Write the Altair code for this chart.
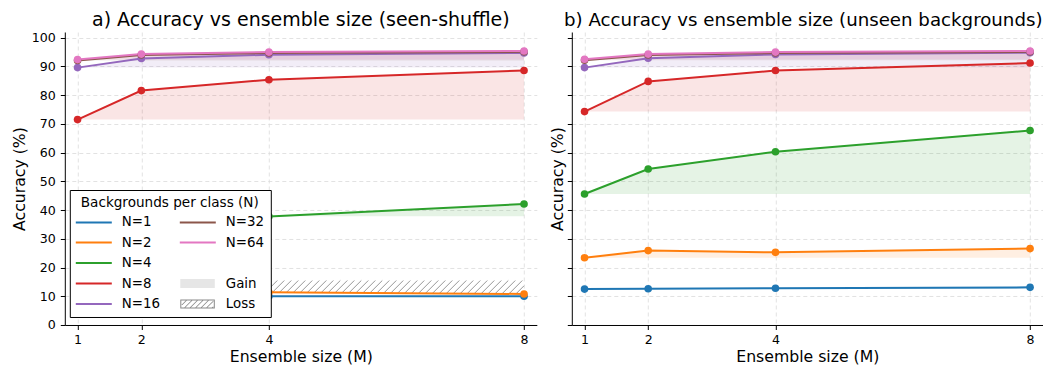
import altair as alt
import numpy as np
import pandas as pd

# ---------------- data ----------------
M_VALUES = [1, 2, 4, 8]
SERIES = ["N=1", "N=2", "N=4", "N=8", "N=16", "N=32", "N=64"]
COLORS = ["#1f77b4", "#ff7f0e", "#2ca02c", "#d62728", "#9467bd", "#8c564b", "#e377c2"]

# a) seen-shuffle
SEEN_N1 = [10.0, 10.0, 10.0, 10.0]
SEEN_N2 = [15.5, 12.6, 11.4, 10.8]
SEEN_N4 = [37.9, 37.2, 37.8, 42.1]
SEEN_N8 = [71.5, 81.6, 85.4, 88.6]
SEEN_N16 = [89.6, 92.8, 94.1, 94.7]
SEEN_N32 = [92.1, 94.0, 94.7, 95.1]
SEEN_N64 = [92.4, 94.3, 95.0, 95.4]

# b) unseen backgrounds
UNSEEN_N1 = [12.5, 12.6, 12.8, 13.1]
UNSEEN_N2 = [23.4, 25.9, 25.3, 26.6]
UNSEEN_N4 = [45.6, 54.3, 60.3, 67.7]
UNSEEN_N8 = [74.3, 84.8, 88.6, 91.2]
UNSEEN_N16 = [89.6, 92.9, 94.2, 94.8]
UNSEEN_N32 = [92.2, 94.0, 94.7, 95.1]
UNSEEN_N64 = [92.5, 94.3, 95.0, 95.4]

SEEN = [SEEN_N1, SEEN_N2, SEEN_N4, SEEN_N8, SEEN_N16, SEEN_N32, SEEN_N64]
UNSEEN = [UNSEEN_N1, UNSEEN_N2, UNSEEN_N4, UNSEEN_N8, UNSEEN_N16, UNSEEN_N32, UNSEEN_N64]

TITLES = ["a) Accuracy vs ensemble size (seen-shuffle)",
          "b) Accuracy vs ensemble size (unseen backgrounds)"]
X_TICKS = [1, 2, 4, 8]
Y_TICKS = list(range(0, 101, 10))
LEGEND_TITLE = "Backgrounds per class (N)"
EXTRA_KEYS = [" ", "Gain", "Loss"]

# ---------------- layout / style ----------------
X_DOMAIN = [0.8, 8.2]
Y_DOMAIN = [0, 102]
W_LEFT, W_RIGHT, H = 472, 471, 293
FONT = "DejaVu Sans"
HATCH_COLOR = "#8a8a8a"
GAIN_PATCH = "#e6e6e6"

SX = W_LEFT / (X_DOMAIN[1] - X_DOMAIN[0])
SY = H / (Y_DOMAIN[1] - Y_DOMAIN[0])
HATCH_STEP = 7.0  # px between hatch lines


def series_frame(panel_vals):
    rows = []
    for order, (name, vals) in enumerate(zip(SERIES, panel_vals)):
        for m, v in zip(M_VALUES, vals):
            rows.append({"series": name, "order": order, "M": m, "acc": v})
    return pd.DataFrame(rows)


def gain_frame(panel_vals):
    rows = []
    for order, (name, vals) in enumerate(zip(SERIES, panel_vals)):
        b = vals[0]
        pts = []
        for i in range(len(M_VALUES)):
            x0, v0 = M_VALUES[i], vals[i]
            pts.append((x0, v0))
            if i + 1 < len(M_VALUES):
                x1, v1 = M_VALUES[i + 1], vals[i + 1]
                if (v0 - b) * (v1 - b) < 0:
                    t = (b - v0) / (v1 - v0)
                    pts.append((x0 + t * (x1 - x0), b))
        for x, v in pts:
            rows.append({"series": name, "order": order, "M": x,
                         "hi": max(v, b), "base": b})
    return pd.DataFrame(rows)


def hatch_frame(panel_vals):
    rows = []
    for name, vals in zip(SERIES, panel_vals):
        b = vals[0]
        xs = np.linspace(M_VALUES[0], M_VALUES[-1], 6001)
        lo = np.interp(xs, M_VALUES, vals)
        if not np.any(lo < b - 1e-9):
            continue
        X = (xs - X_DOMAIN[0]) * SX
        LO = lo * SY
        B = b * SY
        c = np.floor((LO - X).min() / HATCH_STEP) * HATCH_STEP
        cmax = B - X.min()
        while c <= cmax:
            Y = X + c
            ok = (Y <= B) & (Y >= LO)
            idx = np.where(ok)[0]
            if idx.size > 1:
                splits = np.where(np.diff(idx) > 1)[0]
                starts = np.r_[idx[0], idx[splits + 1]]
                ends = np.r_[idx[splits], idx[-1]]
                for s, e in zip(starts, ends):
                    if e > s:
                        rows.append({"M": xs[s], "y": Y[s] / SY,
                                     "M2": xs[e], "y2": Y[e] / SY})
            c += HATCH_STEP
    return pd.DataFrame(rows, columns=["M", "y", "M2", "y2"])


# ---------------- legend symbol paths ----------------
SYM_D = 16.0             # nominal symbol diameter (px) -> controls row height
SYM_W = 36.0             # drawn symbol width (px)
U = 2.0 / SYM_D          # one pixel in symbol units
SX0 = -1.0
SX1 = -1.0 + SYM_W * U


def rect(x0, y0, x1, y1, ccw=False):
    if ccw:
        return f"M{x0:.4f},{y0:.4f}L{x0:.4f},{y1:.4f}L{x1:.4f},{y1:.4f}L{x1:.4f},{y0:.4f}Z"
    return f"M{x0:.4f},{y0:.4f}L{x1:.4f},{y0:.4f}L{x1:.4f},{y1:.4f}L{x0:.4f},{y1:.4f}Z"


LINE_PATH = rect(SX0, -1.0 * U, SX1, 1.0 * U)
PX0, PX1, HH = SX0 + 0.5 * U, SX1 - 1.0 * U, 4.5 * U
GAIN_PATH = rect(PX0, -HH, PX1, HH)


def loss_path():
    p = rect(PX0, -HH, PX1, HH) + rect(PX0 + U, -HH + U, PX1 - U, HH - U, ccw=True)
    h = HH - U
    xl, xr = PX0 + U, PX1 - U
    tw = 1.1 * U
    step = 5.5 * U
    xs = PX0 - 2 * h
    while xs < xr:
        t0 = max(0.0, (xl - xs) / (2 * h))
        t1 = min(1.0, (xr - tw - xs) / (2 * h))
        if t1 > t0:
            ax, ay = xs + 2 * h * t0, h - 2 * h * t0
            bx, by = xs + 2 * h * t1, h - 2 * h * t1
            p += (f"M{ax:.4f},{ay:.4f}L{bx:.4f},{by:.4f}"
                  f"L{bx + tw:.4f},{by:.4f}L{ax + tw:.4f},{ay:.4f}Z")
        xs += step
    return p


LOSS_PATH = loss_path()
BLANK_PATH = "M0,0L0.001,0L0.001,0.001Z"

LEG_KEYS = SERIES + EXTRA_KEYS
LEG_COLORS = COLORS + ["transparent", GAIN_PATCH, HATCH_COLOR]
LEG_SHAPES = [LINE_PATH] * len(SERIES) + [BLANK_PATH, GAIN_PATH, LOSS_PATH]

# ---------------- chart ----------------
x_scale = alt.Scale(domain=X_DOMAIN, nice=False, zero=False)
y_scale = alt.Scale(domain=Y_DOMAIN, nice=False, zero=False)
fill_scale = alt.Scale(domain=SERIES, range=COLORS)
stroke_scale = alt.Scale(domain=SERIES, range=COLORS)


def panel(vals, title, width, show_labels, with_legend, title_size, title_dx):
    x_axis = alt.Axis(values=X_TICKS, title="Ensemble size (M)", format="d",
                      labelPadding=4, titlePadding=3)
    y_axis = alt.Axis(values=Y_TICKS, title="Accuracy (%)", labels=show_labels,
                      titlePadding=4 if show_labels else 1)
    xe = alt.X("M:Q", scale=x_scale, axis=x_axis)

    lines_df = series_frame(vals)
    gain = alt.Chart(gain_frame(vals)).mark_area(fillOpacity=0.12, strokeWidth=0).encode(
        x=xe,
        y=alt.Y("hi:Q", scale=y_scale, axis=y_axis, stack=None),
        y2="base:Q",
        fill=alt.Fill("series:N", scale=fill_scale, legend=None),
    )
    layers = [gain]
    hdf = hatch_frame(vals)
    if len(hdf):
        hatch = alt.Chart(hdf).mark_rule(color=HATCH_COLOR, strokeWidth=0.9).encode(
            x=alt.X("M:Q", scale=x_scale, axis=x_axis),
            y=alt.Y("y:Q", scale=y_scale, axis=y_axis),
            x2="M2:Q",
            y2="y2:Q",
        )
        layers.append(hatch)
    line = alt.Chart(lines_df).mark_line(strokeWidth=2).encode(
        x=xe,
        y=alt.Y("acc:Q", scale=y_scale, axis=y_axis),
        stroke=alt.Stroke("series:N", scale=stroke_scale, legend=None),
        order="M:Q",
    )
    pts = alt.Chart(lines_df).mark_circle(size=58, opacity=1).encode(
        x=xe,
        y=alt.Y("acc:Q", scale=y_scale, axis=y_axis),
        fill=alt.Fill("series:N", scale=fill_scale, legend=None),
    )
    layers += [line, pts]
    if with_legend:
        leg_def = dict(
            title=LEGEND_TITLE, orient="none", legendX=5, legendY=158, columns=2,
            symbolSize=SYM_D * SYM_D, symbolStrokeWidth=0, symbolOpacity=1,
            labelFont=FONT, labelFontSize=13.4, labelColor="black",
            titleFont=FONT, titleFontSize=13.6, titleFontWeight="normal",
            titleColor="black", titleAnchor="middle", titlePadding=4.5,
            strokeColor="black", fillColor="white", padding=6,
            rowPadding=5.5, columnPadding=19, labelOffset=SYM_W - SYM_D + 10,
        )
        leg_df = pd.DataFrame({"key": LEG_KEYS, "M": [1.0] * len(LEG_KEYS),
                               "acc": [50.0] * len(LEG_KEYS)})
        leg = alt.Chart(leg_df).mark_point(filled=True, opacity=0).encode(
            x=xe,
            y=alt.Y("acc:Q", scale=y_scale, axis=y_axis),
            color=alt.Color("key:N", scale=alt.Scale(domain=LEG_KEYS, range=LEG_COLORS),
                            legend=alt.Legend(**leg_def)),
            shape=alt.Shape("key:N", scale=alt.Scale(domain=LEG_KEYS, range=LEG_SHAPES),
                            legend=alt.Legend(**leg_def)),
        )
        layers.append(leg)
    return alt.layer(*layers).properties(
        width=width, height=H,
        title=alt.TitleParams(title, font=FONT, fontSize=title_size, fontWeight="normal",
                              color="black", anchor="middle", offset=2, dx=title_dx),
    )


left = panel(SEEN, TITLES[0], W_LEFT, True, True, 19, 0)
right = panel(UNSEEN, TITLES[1], W_RIGHT, False, False, 18.2, -4)

chart = alt.hconcat(left, right, spacing=13).resolve_scale(
    color="independent", shape="independent"
).properties(
    padding={"left": 2.8, "top": 2, "right": 0, "bottom": 6}
).configure_view(stroke=None).configure_axis(
    labelFont=FONT, titleFont=FONT, labelFontSize=12.6, titleFontSize=15.7,
    titleFontWeight="normal", labelColor="black", titleColor="black",
    domainColor="black", domainWidth=1, tickColor="black", tickSize=4.5,
    tickWidth=1, labelPadding=5, grid=True, gridColor="#dadada",
    gridDash=[4, 3], gridWidth=0.8, labelFlush=False, labelOverlap=False,
)

chart.save("out.html", embed_options={"renderer": "svg", "actions": False})
